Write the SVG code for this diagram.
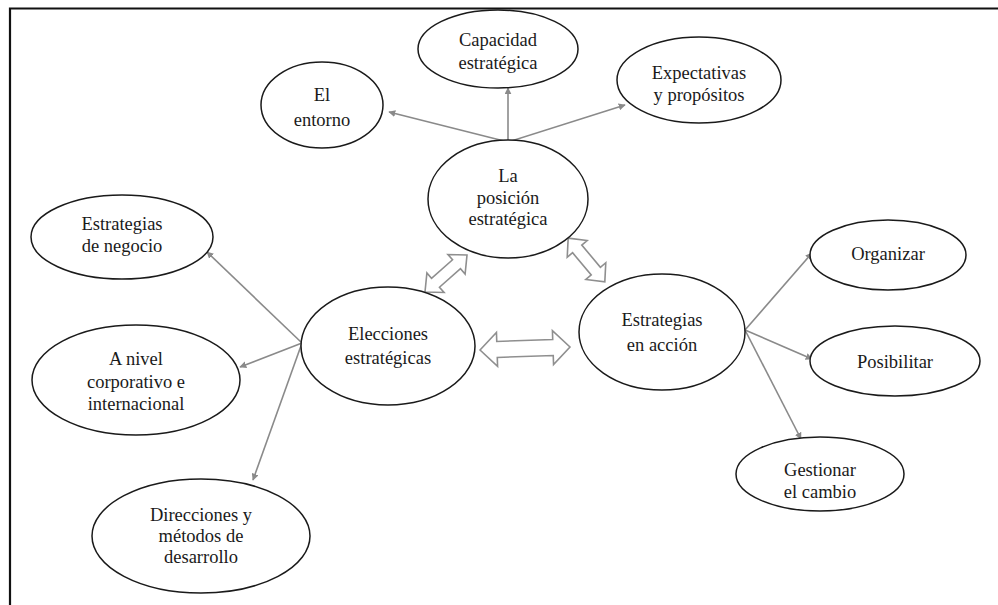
<svg xmlns="http://www.w3.org/2000/svg" width="998" height="605" viewBox="0 0 998 605">
<style>
.n ellipse{fill:#fff;stroke:#1a1a1a;stroke-width:1.5}
.n text{font-family:"Liberation Serif","DejaVu Serif","Noto Serif",serif;font-size:18.5px;fill:#1a1a1a;text-anchor:middle}
.c line{stroke:#8a8a8a;stroke-width:1.6;marker-end:url(#ah)}
.b polygon{fill:#fff;stroke:#8f8f8f;stroke-width:1.6;stroke-linejoin:miter}
.frame{stroke:#111;stroke-width:2.2;fill:none}
</style>
<defs>
<marker id="ah" viewBox="0 0 10 10" refX="9" refY="5" markerWidth="7" markerHeight="7" markerUnits="userSpaceOnUse" orient="auto">
<path d="M0,0 L10,5 L0,10 z" fill="#8a8a8a"/>
</marker>
</defs>
<rect width="998" height="605" fill="#fff"/>
<path class="frame" d="M10,605 L10,8.5 L998,8.5"/>

<g class="c" id="connectors">
<line x1="508" y1="142" x2="389" y2="112"/>
<line x1="508" y1="142" x2="508" y2="88"/>
<line x1="508" y1="142" x2="625" y2="105"/>
<line x1="302" y1="343" x2="207" y2="252"/>
<line x1="302" y1="343" x2="240" y2="367"/>
<line x1="302" y1="343" x2="253" y2="480"/>
<line x1="745" y1="330" x2="812" y2="253"/>
<line x1="745" y1="330" x2="812" y2="359"/>
<line x1="745" y1="330" x2="801" y2="439"/>
</g>

<g class="b" id="double-arrows">
<polygon transform="translate(446,273.5) rotate(-41.4)" points="-28,0 -14,-13 -14,-6 14,-6 14,-13 28,0 14,13 14,6 -14,6 -14,13"/>
<polygon transform="translate(586.5,260) rotate(50)" points="-28.5,0 -14.5,-13 -14.5,-6 14.5,-6 14.5,-13 28.5,0 14.5,13 14.5,6 -14.5,6 -14.5,13"/>
<polygon transform="translate(525,348.5) rotate(-1.9)" points="-45,0 -28,-17 -28,-8 28,-8 28,-17 45,0 28,17 28,8 -28,8 -28,17"/>
</g>

<g class="n" id="entorno">
<ellipse cx="322" cy="105" rx="61" ry="43"/>
<text x="322" y="101">El</text>
<text x="322" y="126">entorno</text>
</g>
<g class="n" id="capacidad">
<ellipse cx="498" cy="49" rx="80" ry="39"/>
<text x="498" y="46">Capacidad</text>
<text x="498" y="69">estratégica</text>
</g>
<g class="n" id="expectativas">
<ellipse cx="699" cy="80" rx="82" ry="43"/>
<text x="699" y="79">Expectativas</text>
<text x="699" y="101">y propósitos</text>
</g>
<g class="n" id="posicion">
<ellipse cx="508" cy="199" rx="80" ry="59"/>
<text x="508" y="182">La</text>
<text x="508" y="204">posición</text>
<text x="508" y="225">estratégica</text>
</g>
<g class="n" id="negocio">
<ellipse cx="122" cy="237" rx="91" ry="42"/>
<text x="122" y="230">Estrategias</text>
<text x="122" y="252">de negocio</text>
</g>
<g class="n" id="corporativo">
<ellipse cx="136" cy="380" rx="104" ry="55"/>
<text x="136" y="365">A nivel</text>
<text x="136" y="388">corporativo e</text>
<text x="136" y="410">internacional</text>
</g>
<g class="n" id="direcciones">
<ellipse cx="201" cy="536" rx="109" ry="57"/>
<text x="201" y="521">Direcciones y</text>
<text x="201" y="542">métodos de</text>
<text x="201" y="563">desarrollo</text>
</g>
<g class="n" id="elecciones">
<ellipse cx="388" cy="346" rx="87" ry="59"/>
<text x="388" y="340">Elecciones</text>
<text x="388" y="364">estratégicas</text>
</g>
<g class="n" id="accion">
<ellipse cx="662" cy="332" rx="83" ry="58"/>
<text x="662" y="326">Estrategias</text>
<text x="662" y="351">en acción</text>
</g>
<g class="n" id="organizar">
<ellipse cx="888" cy="255" rx="78" ry="35"/>
<text x="888" y="260">Organizar</text>
</g>
<g class="n" id="posibilitar">
<ellipse cx="895" cy="361" rx="85" ry="35"/>
<text x="895" y="368">Posibilitar</text>
</g>
<g class="n" id="gestionar">
<ellipse cx="820" cy="474" rx="84" ry="37"/>
<text x="820" y="476">Gestionar</text>
<text x="820" y="498">el cambio</text>
</g>
</svg>
